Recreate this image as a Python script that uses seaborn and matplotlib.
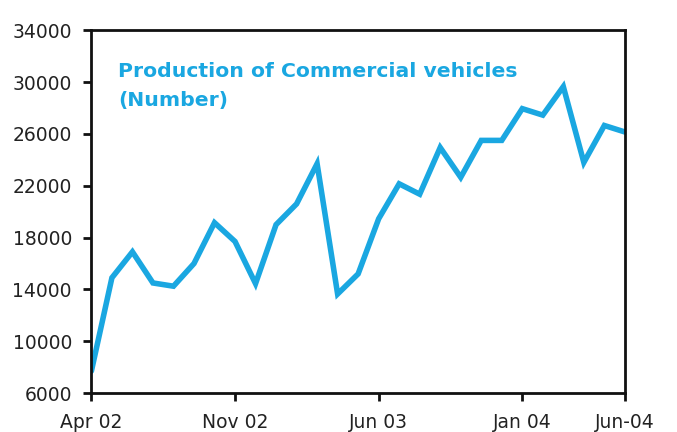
import pandas as pd
import matplotlib
matplotlib.use('Agg')
import matplotlib.pyplot as plt
import seaborn as sns

# monthly data, Apr 02 .. Jun 04
months = ['Apr 02', 'May 02', 'Jun 02', 'Jul 02', 'Aug 02', 'Sep 02', 'Oct 02',
          'Nov 02', 'Dec 02', 'Jan 03', 'Feb 03', 'Mar 03', 'Apr 03', 'May 03',
          'Jun 03', 'Jul 03', 'Aug 03', 'Sep 03', 'Oct 03', 'Nov 03', 'Dec 03',
          'Jan 04', 'Feb 04', 'Mar 04', 'Apr 04', 'May 04', 'Jun-04']
production = [7700, 14900, 16900, 14500, 14250, 16000, 19150,
              17700, 14450, 19000, 20600, 23700, 13650, 15200,
              19450, 22150, 21350, 24950, 22650, 25500, 25500,
              27950, 27450, 29650, 23800, 26650, 26150]

tick_labels = ['Apr 02', 'Nov 02', 'Jun 03', 'Jan 04', 'Jun-04']
y_ticks = [6000, 10000, 14000, 18000, 22000, 26000, 30000, 34000]

df = pd.DataFrame({'idx': range(len(months)), 'month': months, 'value': production})

sns.set_style('white')
plt.rcParams['font.family'] = ['DejaVu Sans']

fig, ax = plt.subplots(figsize=(6.77, 4.32), dpi=100)
fig.subplots_adjust(left=0.135, right=0.923, top=0.93, bottom=0.09)

sns.lineplot(data=df, x='idx', y='value', ax=ax, color='#1aa7e1', linewidth=4,
             solid_joinstyle='miter')

ax.set_xlim(0, len(months) - 1)
ax.set_ylim(6000, 34000)
ax.set_yticks(y_ticks)
ax.set_yticklabels([str(v) for v in y_ticks])
ax.set_xticks([months.index(m) for m in tick_labels])
ax.set_xticklabels(tick_labels)
ax.set_xlabel('')
ax.set_ylabel('')

for s in ax.spines.values():
    s.set_visible(True)
    s.set_color('#111111')
    s.set_linewidth(2)

ax.tick_params(axis='both', which='both', direction='out', length=6, width=2,
               color='#111111', labelsize=13.5, labelcolor='#222222',
               bottom=True, left=True)
ax.tick_params(axis='y', pad=8)
ax.tick_params(axis='x', pad=8)

ax.text(0.05, 0.913, 'Production of Commercial vehicles\n(Number)',
        transform=ax.transAxes, color='#1aa7e1', fontsize=14.7, fontweight='bold',
        va='top', ha='left', linespacing=1.7)

fig.savefig('out.png', dpi=100)
